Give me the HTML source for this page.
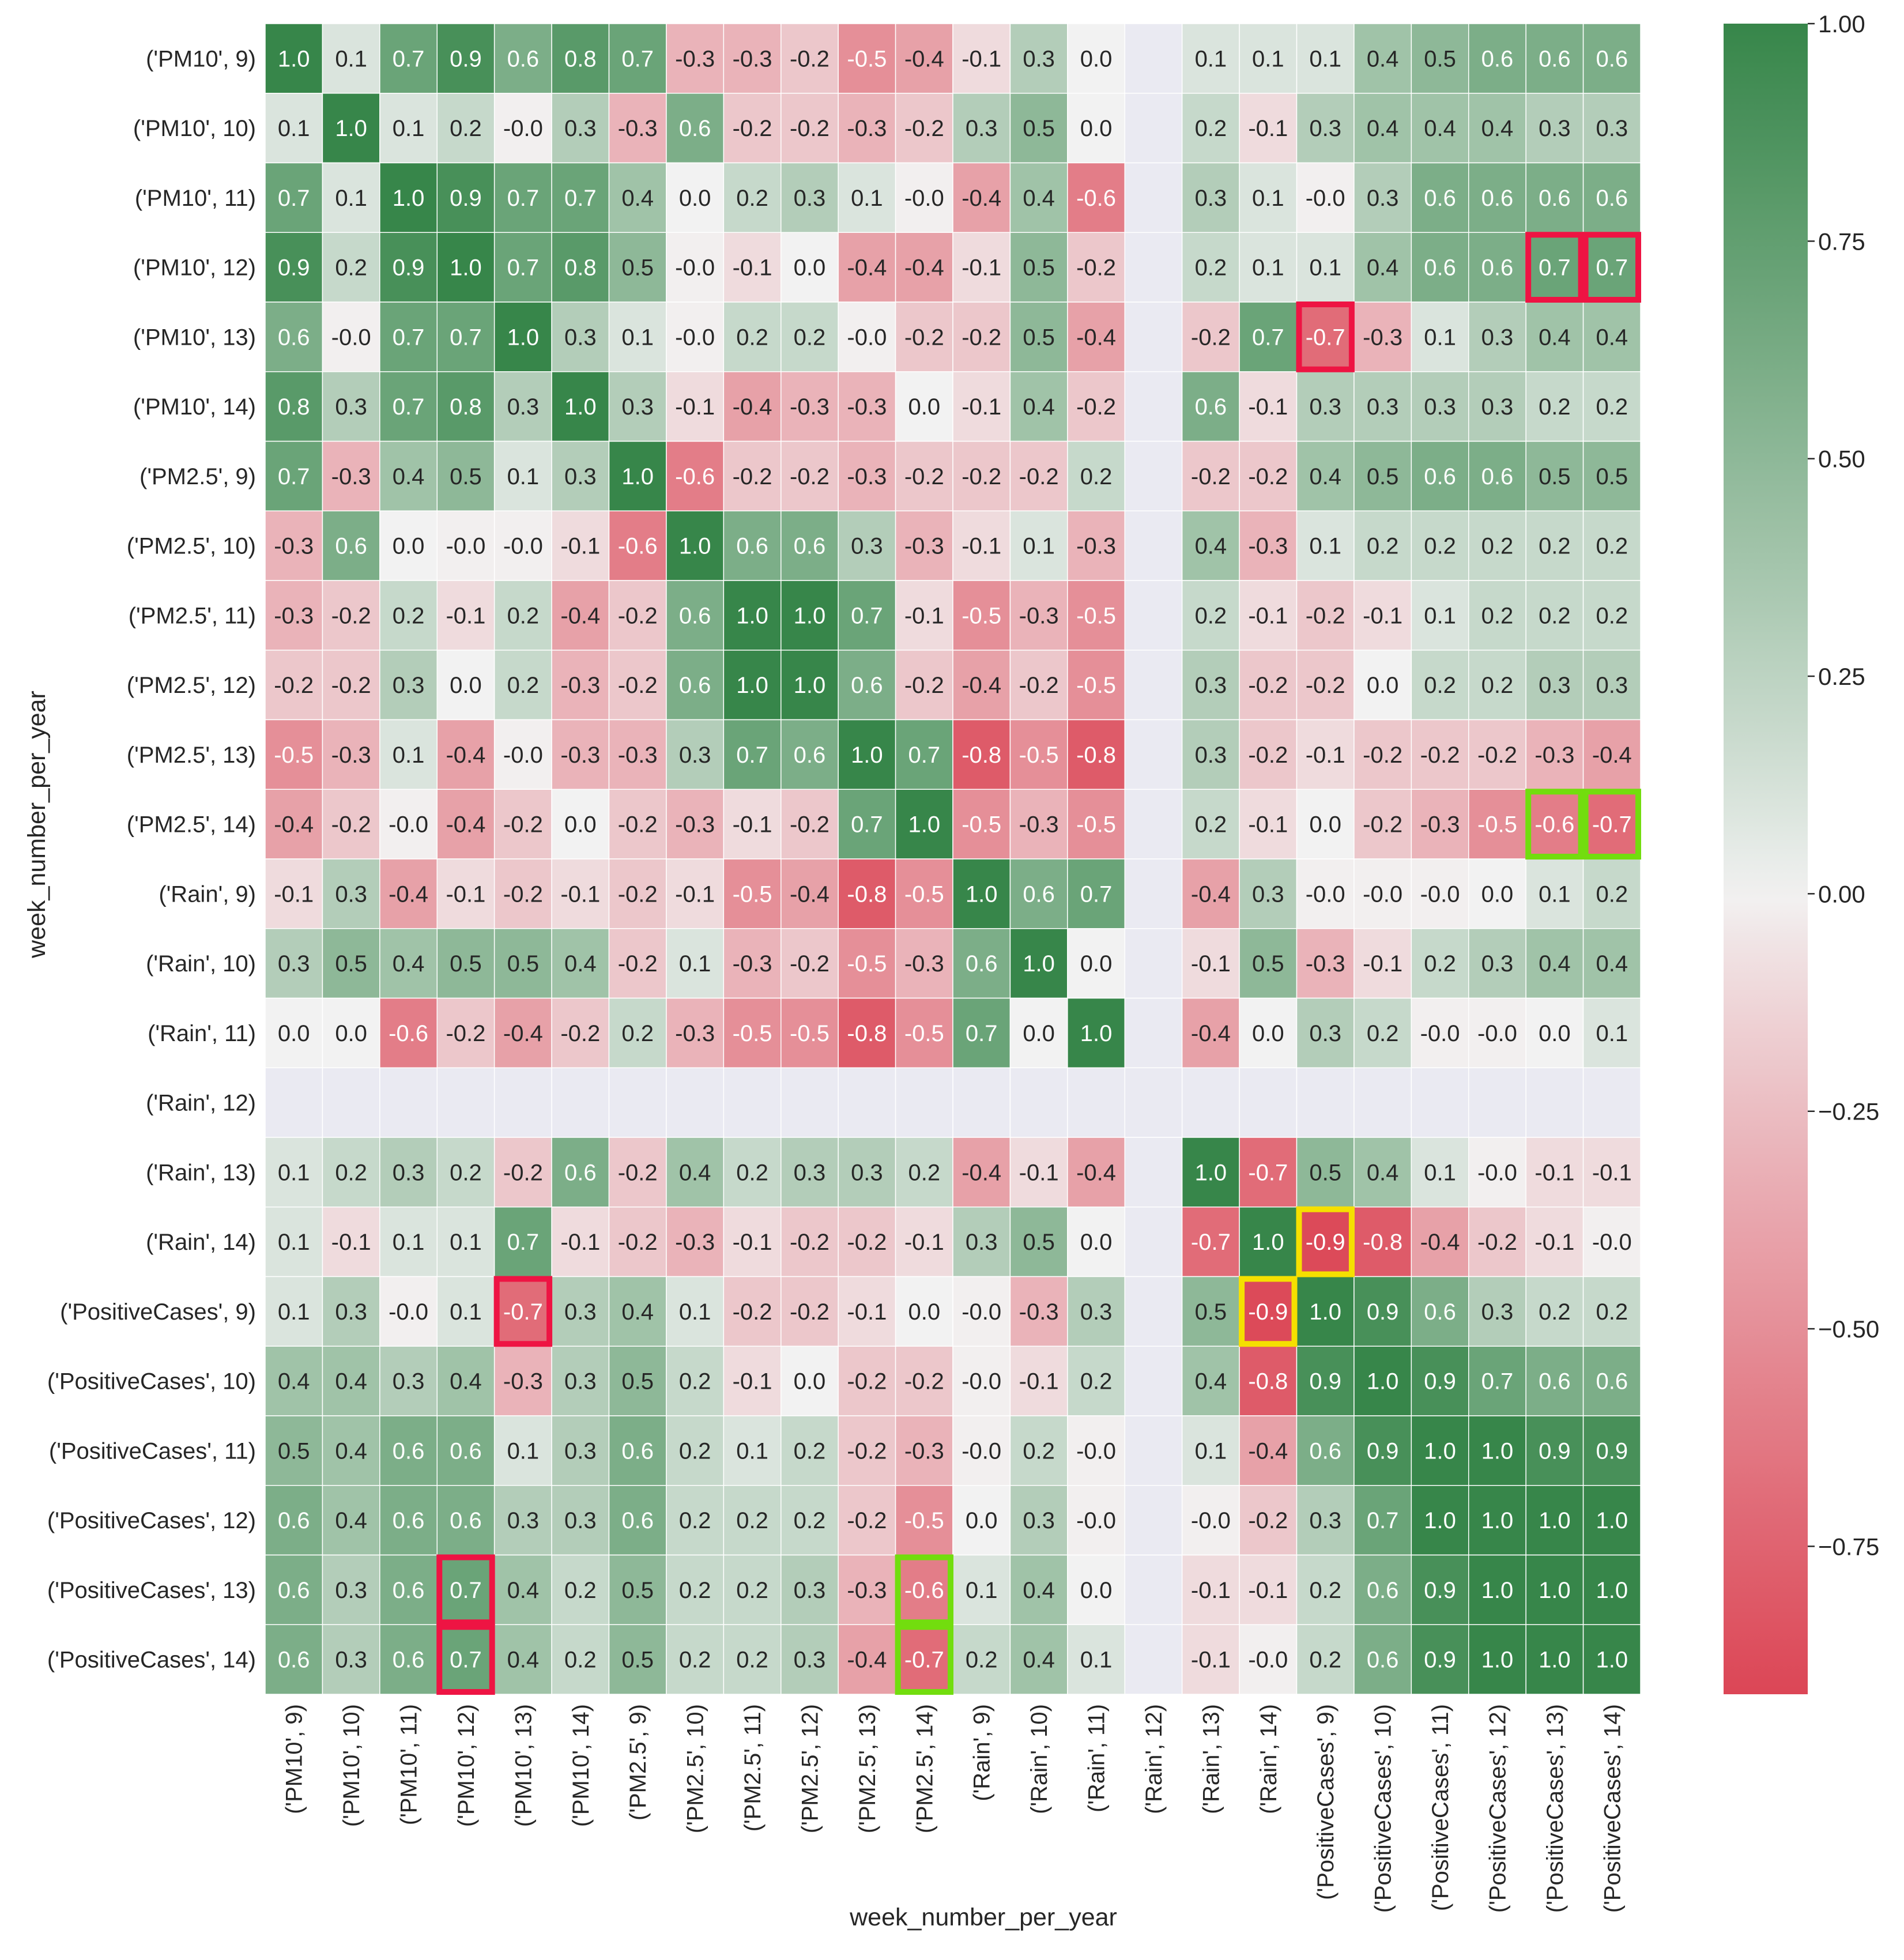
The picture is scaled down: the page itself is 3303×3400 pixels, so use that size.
<!DOCTYPE html>
<html><head><meta charset="utf-8"><style>
html,body{margin:0;padding:0;background:#fff;}
svg text{font-family:"Liberation Sans",Arial,sans-serif;}
</style></head><body>
<svg id="chart" width="3303" height="3395" viewBox="0 0 3303 3395" xmlns="http://www.w3.org/2000/svg">
<defs><linearGradient id="cbgrad" x1="0" y1="0" x2="0" y2="1"></linearGradient></defs>
<g id="cells"></g><g id="annots"></g><g id="ylabels"></g><g id="xlabels"></g><g id="highlights"></g><g id="cbar"></g>
<text x="0" y="0" transform="translate(78,1430) rotate(-90)" text-anchor="middle" font-size="43" fill="#262626">week_number_per_year</text>
<text x="1706" y="3340" text-anchor="middle" font-size="43" fill="#262626">week_number_per_year</text>
</svg>
<script>
const labels = ["('PM10', 9)","('PM10', 10)","('PM10', 11)","('PM10', 12)","('PM10', 13)","('PM10', 14)","('PM2.5', 9)","('PM2.5', 10)","('PM2.5', 11)","('PM2.5', 12)","('PM2.5', 13)","('PM2.5', 14)","('Rain', 9)","('Rain', 10)","('Rain', 11)","('Rain', 12)","('Rain', 13)","('Rain', 14)","('PositiveCases', 9)","('PositiveCases', 10)","('PositiveCases', 11)","('PositiveCases', 12)","('PositiveCases', 13)","('PositiveCases', 14)"];
const N = null, z = -0.01;
const row0 = [1.0,0.1,0.7,0.9,0.6,0.8,0.7,-0.3,-0.3,-0.2,-0.5,-0.4,-0.1,0.3,0.0,N,0.1,0.1,0.1,0.4,0.5,0.6,0.6,0.6];
const row1 = [0.1,1.0,0.1,0.2,z,0.3,-0.3,0.6,-0.2,-0.2,-0.3,-0.2,0.3,0.5,0.0,N,0.2,-0.1,0.3,0.4,0.4,0.4,0.3,0.3];
const row2 = [0.7,0.1,1.0,0.9,0.7,0.7,0.4,0.0,0.2,0.3,0.1,z,-0.4,0.4,-0.6,N,0.3,0.1,z,0.3,0.6,0.6,0.6,0.6];
const row3 = [0.9,0.2,0.9,1.0,0.7,0.8,0.5,z,-0.1,0.0,-0.4,-0.4,-0.1,0.5,-0.2,N,0.2,0.1,0.1,0.4,0.6,0.6,0.7,0.7];
const row4 = [0.6,z,0.7,0.7,1.0,0.3,0.1,z,0.2,0.2,z,-0.2,-0.2,0.5,-0.4,N,-0.2,0.7,-0.7,-0.3,0.1,0.3,0.4,0.4];
const row5 = [0.8,0.3,0.7,0.8,0.3,1.0,0.3,-0.1,-0.4,-0.3,-0.3,0.0,-0.1,0.4,-0.2,N,0.6,-0.1,0.3,0.3,0.3,0.3,0.2,0.2];
const row6 = [0.7,-0.3,0.4,0.5,0.1,0.3,1.0,-0.6,-0.2,-0.2,-0.3,-0.2,-0.2,-0.2,0.2,N,-0.2,-0.2,0.4,0.5,0.6,0.6,0.5,0.5];
const row7 = [-0.3,0.6,0.0,z,z,-0.1,-0.6,1.0,0.6,0.6,0.3,-0.3,-0.1,0.1,-0.3,N,0.4,-0.3,0.1,0.2,0.2,0.2,0.2,0.2];
const row8 = [-0.3,-0.2,0.2,-0.1,0.2,-0.4,-0.2,0.6,1.0,1.0,0.7,-0.1,-0.5,-0.3,-0.5,N,0.2,-0.1,-0.2,-0.1,0.1,0.2,0.2,0.2];
const row9 = [-0.2,-0.2,0.3,0.0,0.2,-0.3,-0.2,0.6,1.0,1.0,0.6,-0.2,-0.4,-0.2,-0.5,N,0.3,-0.2,-0.2,0.0,0.2,0.2,0.3,0.3];
const row10 = [-0.5,-0.3,0.1,-0.4,z,-0.3,-0.3,0.3,0.7,0.6,1.0,0.7,-0.8,-0.5,-0.8,N,0.3,-0.2,-0.1,-0.2,-0.2,-0.2,-0.3,-0.4];
const row11 = [-0.4,-0.2,z,-0.4,-0.2,0.0,-0.2,-0.3,-0.1,-0.2,0.7,1.0,-0.5,-0.3,-0.5,N,0.2,-0.1,0.0,-0.2,-0.3,-0.5,-0.6,-0.7];
const row12 = [-0.1,0.3,-0.4,-0.1,-0.2,-0.1,-0.2,-0.1,-0.5,-0.4,-0.8,-0.5,1.0,0.6,0.7,N,-0.4,0.3,z,z,z,0.0,0.1,0.2];
const row13 = [0.3,0.5,0.4,0.5,0.5,0.4,-0.2,0.1,-0.3,-0.2,-0.5,-0.3,0.6,1.0,0.0,N,-0.1,0.5,-0.3,-0.1,0.2,0.3,0.4,0.4];
const row14 = [0.0,0.0,-0.6,-0.2,-0.4,-0.2,0.2,-0.3,-0.5,-0.5,-0.8,-0.5,0.7,0.0,1.0,N,-0.4,0.0,0.3,0.2,z,z,0.0,0.1];
const row15 = [N,N,N,N,N,N,N,N,N,N,N,N,N,N,N,N,N,N,N,N,N,N,N,N];
const row16 = [0.1,0.2,0.3,0.2,-0.2,0.6,-0.2,0.4,0.2,0.3,0.3,0.2,-0.4,-0.1,-0.4,N,1.0,-0.7,0.5,0.4,0.1,z,-0.1,-0.1];
const row17 = [0.1,-0.1,0.1,0.1,0.7,-0.1,-0.2,-0.3,-0.1,-0.2,-0.2,-0.1,0.3,0.5,0.0,N,-0.7,1.0,-0.9,-0.8,-0.4,-0.2,-0.1,z];
const row18 = [0.1,0.3,z,0.1,-0.7,0.3,0.4,0.1,-0.2,-0.2,-0.1,0.0,z,-0.3,0.3,N,0.5,-0.9,1.0,0.9,0.6,0.3,0.2,0.2];
const row19 = [0.4,0.4,0.3,0.4,-0.3,0.3,0.5,0.2,-0.1,0.0,-0.2,-0.2,z,-0.1,0.2,N,0.4,-0.8,0.9,1.0,0.9,0.7,0.6,0.6];
const row20 = [0.5,0.4,0.6,0.6,0.1,0.3,0.6,0.2,0.1,0.2,-0.2,-0.3,z,0.2,z,N,0.1,-0.4,0.6,0.9,1.0,1.0,0.9,0.9];
const row21 = [0.6,0.4,0.6,0.6,0.3,0.3,0.6,0.2,0.2,0.2,-0.2,-0.5,0.0,0.3,z,N,z,-0.2,0.3,0.7,1.0,1.0,1.0,1.0];
const row22 = [0.6,0.3,0.6,0.7,0.4,0.2,0.5,0.2,0.2,0.3,-0.3,-0.6,0.1,0.4,0.0,N,-0.1,-0.1,0.2,0.6,0.9,1.0,1.0,1.0];
const row23 = [0.6,0.3,0.6,0.7,0.4,0.2,0.5,0.2,0.2,0.3,-0.4,-0.7,0.2,0.4,0.1,N,-0.1,z,0.2,0.6,0.9,1.0,1.0,1.0];
const matrix = [row0,row1,row2,row3,row4,row5,row6,row7,row8,row9,row10,row11,row12,row13,row14,row15,row16,row17,row18,row19,row20,row21,row22,row23];
const redBoxes = [[3,22],[3,23],[4,18],[18,4],[22,3],[23,3]];
const greenBoxes = [[11,22],[11,23],[22,11],[23,11]];
const yellowBoxes = [[17,18],[18,17]];
const cbTicks = [1.0,0.75,0.5,0.25,0.0,-0.25,-0.5,-0.75];
const vmin = -0.92, vmax = 1.0;

const NS = "http://www.w3.org/2000/svg";
const X0 = 460, X1 = 2846, Y0 = 41, Y1 = 2939;
const n = labels.length, cw = (X1 - X0) / n, ch = (Y1 - Y0) / n;
const xs = i => X0 + i * cw, ys = j => Y0 + j * ch;
const RED = [218,57,74], MID = [242,242,242], GREEN = [55,134,74];
function color(v) {
  let t, b;
  if (v >= 0) { t = v; b = GREEN; } else { t = -v; b = RED; }
  t = Math.pow(Math.min(1, t), 0.9);
  return MID.map((x, k) => Math.round(x + (b[k] - x) * t));
}
function lum(c) {
  const f = c.map(x => { x /= 255; return x <= 0.03928 ? x / 12.92 : Math.pow((x + 0.055) / 1.055, 2.4); });
  return 0.2126 * f[0] + 0.7152 * f[1] + 0.0722 * f[2];
}
function mk(tag, attrs, parent) {
  const e = document.createElementNS(NS, tag);
  for (const k in attrs) e.setAttribute(k, attrs[k]);
  parent.appendChild(e);
  return e;
}
const gCells = document.getElementById('cells'), gAnn = document.getElementById('annots');
matrix.forEach((row, j) => {
  row.forEach((v, i) => {
    const c = v === null ? [234,234,242] : color(v);
    const r = mk('rect', {x: xs(i), y: ys(j), width: cw, height: ch, fill: `rgb(${c})`, stroke: '#fff', 'stroke-width': 1.5}, gCells);
    
    
    if (v !== null) {
      const t = mk('text', {x: xs(i) + cw / 2, y: ys(j) + ch / 2 + 14, 'text-anchor': 'middle', 'font-size': 40, fill: lum(c) > 0.408 ? '#262626' : '#ffffff'}, gAnn);
      t.textContent = v.toFixed(1);
      
      
    }
  });
});
const gY = document.getElementById('ylabels'), gX = document.getElementById('xlabels');
labels.forEach((l, k) => {
  const t = mk('text', {x: X0 - 16, y: ys(k) + ch / 2 + 14, 'text-anchor': 'end', 'font-size': 40, fill: '#262626'}, gY);
  t.textContent = l;
  
  
  const cx = xs(k) + cw / 2 + 14;
  const u = mk('text', {x: 0, y: 0, transform: `translate(${cx},2956) rotate(-90)`, 'text-anchor': 'end', 'font-size': 40, fill: '#262626'}, gX);
  u.textContent = l;
  
  
});
const gH = document.getElementById('highlights');
[[redBoxes,'#ee1443'],[greenBoxes,'#72dd0e'],[yellowBoxes,'#f5e000']].forEach(([boxes,col]) => {
  boxes.forEach(([r,c]) => {
    const b = mk('rect', {x: xs(c) + 4, y: ys(r) + 4, width: cw - 8, height: ch - 8, fill: 'none', stroke: col, 'stroke-width': 10}, gH);
    
    
  });
});
const CB0 = 2990, CB1 = 3136;
const grad = document.getElementById('cbgrad');
for (let s = 0; s <= 40; s++) {
  const v = vmax - (vmax - vmin) * s / 40;
  mk('stop', {offset: (s / 40), 'stop-color': `rgb(${color(v)})`}, grad);
}
const gC = document.getElementById('cbar');
const cb = mk('rect', {x: CB0, y: Y0, width: CB1 - CB0, height: Y1 - Y0, fill: 'url(#cbgrad)'}, gC);


const cy = v => Y0 + (vmax - v) / (vmax - vmin) * (Y1 - Y0);
cbTicks.forEach(v => {
  const y = cy(v);
  mk('line', {x1: CB1, x2: CB1 + 12, y1: y, y2: y, stroke: '#262626', 'stroke-width': 2.5}, gC);
  const t = mk('text', {x: CB1 + 18, y: y + 15, 'font-size': 42, fill: '#262626'}, gC);
  t.textContent = (v < 0 ? '\u2212' : '') + Math.abs(v).toFixed(2);
  
  
});
</script>
</body></html>
